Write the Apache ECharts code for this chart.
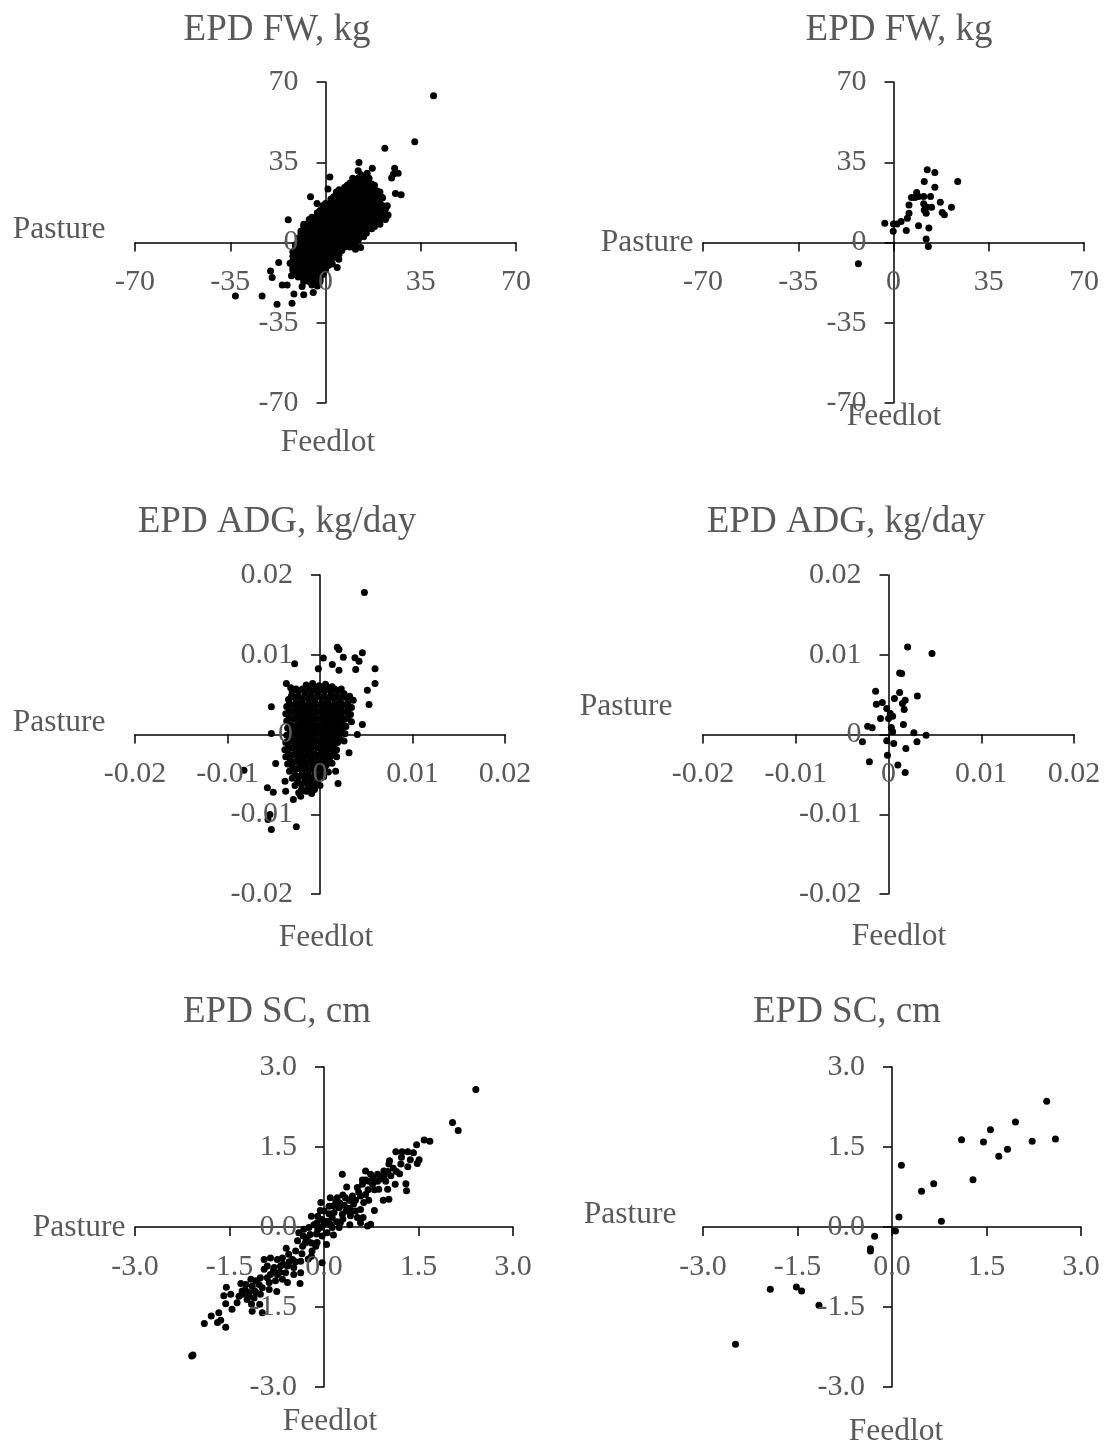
<!DOCTYPE html>
<html>
<head>
<meta charset="utf-8">
<title>EPD feedlot vs pasture</title>
<script src="https://cdn.jsdelivr.net/npm/echarts@6/dist/echarts.min.js"></script>
<style>
html, body { margin: 0; padding: 0; background: #fff; }
#chart { width: 1105px; height: 1446px; }
</style>
</head>
<body>
<div id="chart"></div>
<script>
// every point is [feedlot, pasture]
const fwAll = [
  [39.7,64.0],[32.8,43.9],[21.8,41.1],[12.3,34.9],[17.2,32.4],[12.0,31.3],[15.3,30.2],[25.4,32.4],[24.9,29.8],[26.7,30.2],
  [24.3,28.1],[1.6,28.6],[0.9,23.3],[-5.5,19.9],[-3.1,17.0],[25.7,21.4],[27.8,20.8],[-13.7,9.9],[-17.2,-8.7],[-20.2,-12.4],
  [-19.6,-15.3],[-15.9,-18.5],[-14.1,-18.5],[-8.6,-19.2],[-12.5,-14.5],[-33.1,-23.3],[-23.3,-23.3],[-17.8,-26.9],[-11.6,-22.5],[-12.3,-26.5],
  [-8.0,-22.8],[-4.5,-21.8],[4.3,-10.9],[2.5,-9.4],[4.9,-7.3],[11.0,-2.9],[12.9,-2.2],[22.3,10.9],[21.4,13.1],[22.7,16.0],[20.2,20.3],
  [13,29.5],[15,28.5],
  [9,26],[11,27],[13,26],[15,26.5],[17,25.5],
  [5,23],[7,24],[9,23],[11,23.5],[13,23],[15,24],[17,23],[19,22.5],
  [3,20],[5,21],[7,20],[9,20.5],[11,21],[13,20],[15,20.5],[17,20],[19,21],[21,19.5],
  [0,17],[2,18],[4,17.5],[6,17],[8,18],[10,17],[12,17.5],[14,17],[16,18],[18,17],[20,17.5],
  [-2,14],[0,14.5],[2,14],[4,15],[6,14],[8,14.5],[10,15],[12,14],[14,14.5],[16,14],[18,15],[20,14],[22,14.5],
  [-5,11],[-3,12],[-1,11],[1,11.5],[3,12],[5,11],[7,11.5],[9,12],[11,11],[13,11.5],[15,12],[17,11],[19,11.5],[21,11],[23,12],
  [-8,8],[-6,9],[-4,8],[-2,8.5],[0,9],[2,8],[4,8.5],[6,9],[8,8],[10,8.5],[12,9],[14,8],[16,8.5],[18,9],[20,8],
  [-9,5],[-7,6],[-5,5],[-3,5.5],[-1,6],[1,5],[3,5.5],[5,6],[7,5],[9,5.5],[11,6],[13,5],[15,5.5],[17,6],
  [-10,2],[-8,3],[-6,2],[-4,2.5],[-2,3],[0,2],[2,2.5],[4,3],[6,2],[8,2.5],[10,3],[12,2],[14,2.5],
  [-11,-1],[-9,0],[-7,-1],[-5,-0.5],[-3,0],[-1,-1],[1,-0.5],[3,0],[5,-1],[7,-0.5],[9,0],[11,-1],
  [-12,-4],[-10,-3],[-8,-4],[-6,-3.5],[-4,-3],[-2,-4],[0,-3.5],[2,-3],[4,-4],[6,-3.5],
  [-12,-6],[-10,-7],[-8,-6.5],[-6,-6],[-4,-7],[-2,-6.5],[0,-6],[2,-7],[4,-6.5],
  [-13,-9],[-11,-10],[-9,-9.5],[-7,-9],[-5,-10],[-3,-9.5],[-1,-9],[1,-10],
  [-12,-12],[-10,-13],[-8,-12.5],[-6,-12],[-4,-13],[-2,-12.5],[0,-12],
  [-10,-15],[-8,-16],[-6,-15.5],[-4,-15],[-2,-16],
  [-5,-18.5],[-3,-19],
  [10,28],[12,28],[14,28],[16,28],
  [8,25],[10,25],[12,25],[14,25],[16,25],[18,25],
  [4,22],[6,22],[8,22],[10,22],[12,22],[14,22],[16,22],[18,22],[20,22],
  [2,19],[4,19],[6,19],[8,19],[10,19],[12,19],[14,19],[16,19],[18,19],[20,19],
  [-1,16],[1,16],[3,16],[5,16],[7,16],[9,16],[11,16],[13,16],[15,16],[17,16],[19,16],[21,16],
  [-3,13],[-1,13],[1,13],[3,13],[5,13],[7,13],[9,13],[11,13],[13,13],[15,13],[17,13],[19,13],[21,13],
  [-6,10],[-4,10],[-2,10],[0,10],[2,10],[4,10],[6,10],[8,10],[10,10],[12,10],[14,10],[16,10],[18,10],[20,10],[22,10],
  [-8,7],[-6,7],[-4,7],[-2,7],[0,7],[2,7],[4,7],[6,7],[8,7],[10,7],[12,7],[14,7],[16,7],[18,7],
  [-9,4],[-7,4],[-5,4],[-3,4],[-1,4],[1,4],[3,4],[5,4],[7,4],[9,4],[11,4],[13,4],[15,4],
  [-10,1],[-8,1],[-6,1],[-4,1],[-2,1],[0,1],[2,1],[4,1],[6,1],[8,1],[10,1],[12,1],
  [-11,-2],[-9,-2],[-7,-2],[-5,-2],[-3,-2],[-1,-2],[1,-2],[3,-2],[5,-2],[7,-2],[9,-2],
  [-11,-5],[-9,-5],[-7,-5],[-5,-5],[-3,-5],[-1,-5],[1,-5],[3,-5],[5,-5],
  [-12,-8],[-10,-8],[-8,-8],[-6,-8],[-4,-8],[-2,-8],[0,-8],[2,-8],
  [-12,-11],[-10,-11],[-8,-11],[-6,-11],[-4,-11],[-2,-11],[0,-11],
  [-11,-14],[-9,-14],[-7,-14],[-5,-14],[-3,-14],[-1,-14],
  [-8,-17],[-6,-17],[-4,-17],[-2,-17]
];

const fwSub = [
  [12.4,31.7],[15.2,30.5],[11.3,26.6],[23.6,26.6],[15.2,24.1],[8.5,21.8],[6.6,19.6],[7.9,19.6],[9.2,20.1],[11.1,20.1],
  [13.6,20.1],[17.2,17.6],[5.7,16.4],[11.1,16.9],[12.4,15.4],[14.0,15.4],[11.3,14.2],[21.3,15.4],[17.9,13.1],[18.7,12.1],
  [12.0,12.8],[5.7,12.8],[5.1,10.6],[2.8,9.2],[1.3,8.1],[0,8.1],[-3.2,8.4],[-0.1,4.9],[4.7,5.2],[9.2,7.3],
  [13.0,6.3],[12.0,1.5],[12.8,-1.7],[-12.9,-9.3]
];

const adgAll = [
  [0.0048,0.0178],[0.00187,0.01095],[0.00205,0.01066],[0.00458,0.01024],[0.00378,0.00961],[0.00422,0.0092],[0.00252,0.0097],[0.00036,0.0096],
  [-0.00018,0.00823],[-0.00274,0.00886],[0.00133,0.00878],[0.00205,0.00807],[0.00386,0.00815],[0.00595,0.00823],[0.00595,0.0064],[0.00512,0.00556],
  [0.0053,0.00376],[-0.00526,0.00347],[-0.00364,0.0064],[-0.00317,0.00585],[-0.00526,0.00013],[0.00458,0.00125],[0.00404,0],[0.00314,-0.0023],
  [0.00195,-0.00614],[0.00169,-0.0046],[-0.00822,-0.00447],[-0.00479,-0.00364],[-0.00569,-0.00669],[-0.00505,-0.00723],[-0.00371,-0.00711],[-0.00378,-0.00585],
  [-0.00288,-0.00815],[-0.00209,-0.00773],[-0.00541,-0.01003],[-0.00562,-0.01066],[-0.00526,-0.01191],[-0.00256,-0.01158],[-0.00137,-0.00711],[-0.00065,-0.00681],
  [-0.0015,0.0062],[-0.0008,0.0064],[-0.0001,0.0061],[0.0006,0.0063],[0.0013,0.0060],
  [-0.0030,0.0053],[-0.0023,0.0055],[-0.0016,0.0052],[-0.0009,0.0054],[-0.0002,0.0053],[0.0005,0.0055],[0.0012,0.0052],[0.0019,0.0054],[0.0026,0.0051],
  [-0.0034,0.0044],[-0.0027,0.0046],[-0.0020,0.0043],[-0.0013,0.0045],[-0.0006,0.0044],[0.0001,0.0046],[0.0008,0.0043],[0.0015,0.0045],[0.0022,0.0044],[0.0029,0.0046],[0.0036,0.0043],
  [-0.0036,0.0035],[-0.0029,0.0037],[-0.0022,0.0034],[-0.0015,0.0036],[-0.0008,0.0035],[-0.0001,0.0037],[0.0006,0.0034],[0.0013,0.0036],[0.0020,0.0035],[0.0027,0.0037],[0.0034,0.0034],
  [-0.0037,0.0026],[-0.0030,0.0028],[-0.0023,0.0025],[-0.0016,0.0027],[-0.0009,0.0026],[-0.0002,0.0028],[0.0005,0.0025],[0.0012,0.0027],[0.0019,0.0026],[0.0026,0.0028],[0.0033,0.0025],
  [-0.0036,0.0017],[-0.0029,0.0019],[-0.0022,0.0016],[-0.0015,0.0018],[-0.0008,0.0017],[-0.0001,0.0019],[0.0006,0.0016],[0.0013,0.0018],[0.0020,0.0017],[0.0027,0.0019],[0.0034,0.0016],
  [-0.0035,0.0008],[-0.0028,0.0010],[-0.0021,0.0007],[-0.0014,0.0009],[-0.0007,0.0008],[0.0000,0.0010],[0.0007,0.0007],[0.0014,0.0009],[0.0021,0.0008],[0.0028,0.0010],
  [-0.0036,-0.0001],[-0.0029,0.0001],[-0.0022,-0.0002],[-0.0015,0.0000],[-0.0008,-0.0001],[-0.0001,0.0001],[0.0006,-0.0002],[0.0013,0.0000],[0.0020,-0.0001],[0.0027,0.0001],
  [-0.0037,-0.0010],[-0.0030,-0.0008],[-0.0023,-0.0011],[-0.0016,-0.0009],[-0.0009,-0.0010],[-0.0002,-0.0008],[0.0005,-0.0011],[0.0012,-0.0009],[0.0019,-0.0010],[0.0026,-0.0008],
  [-0.0038,-0.0019],[-0.0031,-0.0017],[-0.0024,-0.0020],[-0.0017,-0.0018],[-0.0010,-0.0019],[-0.0003,-0.0017],[0.0004,-0.0020],[0.0011,-0.0018],[0.0018,-0.0019],
  [-0.0037,-0.0028],[-0.0030,-0.0026],[-0.0023,-0.0029],[-0.0016,-0.0027],[-0.0009,-0.0028],[-0.0002,-0.0026],[0.0005,-0.0029],[0.0012,-0.0027],[0.0018,-0.0028],
  [-0.0035,-0.0037],[-0.0028,-0.0035],[-0.0021,-0.0038],[-0.0014,-0.0036],[-0.0007,-0.0037],[0.0000,-0.0035],[0.0007,-0.0038],[0.0013,-0.0036],
  [-0.0033,-0.0046],[-0.0026,-0.0044],[-0.0019,-0.0047],[-0.0012,-0.0045],[-0.0005,-0.0046],[0.0002,-0.0044],[0.0009,-0.0047],
  [-0.0030,-0.0055],[-0.0023,-0.0053],[-0.0016,-0.0056],[-0.0009,-0.0054],[-0.0002,-0.0055],[0.0004,-0.0053],
  [-0.0027,-0.0064],[-0.0020,-0.0062],[-0.0013,-0.0065],[-0.0006,-0.0063],[0.0000,-0.0064],
  [-0.0023,-0.0073],[-0.0016,-0.0071],[-0.0009,-0.0074],
  [-0.0026,0.0057],[-0.0019,0.0057],[-0.0012,0.0057],[-0.0005,0.0057],[0.0002,0.0057],[0.0009,0.0057],[0.0016,0.0057],[0.0023,0.0057],
  [-0.0031,0.0048],[-0.0024,0.0048],[-0.0017,0.0048],[-0.0010,0.0048],[-0.0003,0.0048],[0.0004,0.0048],[0.0011,0.0048],[0.0018,0.0048],[0.0025,0.0048],[0.0032,0.0048],
  [-0.0033,0.0039],[-0.0026,0.0039],[-0.0019,0.0039],[-0.0012,0.0039],[-0.0005,0.0039],[0.0002,0.0039],[0.0009,0.0039],[0.0016,0.0039],[0.0023,0.0039],[0.0030,0.0039],
  [-0.0033,0.0030],[-0.0026,0.0030],[-0.0019,0.0030],[-0.0012,0.0030],[-0.0005,0.0030],[0.0002,0.0030],[0.0009,0.0030],[0.0016,0.0030],[0.0023,0.0030],[0.0030,0.0030],
  [-0.0033,0.0021],[-0.0026,0.0021],[-0.0019,0.0021],[-0.0012,0.0021],[-0.0005,0.0021],[0.0002,0.0021],[0.0009,0.0021],[0.0016,0.0021],[0.0023,0.0021],[0.0030,0.0021],
  [-0.0032,0.0012],[-0.0025,0.0012],[-0.0018,0.0012],[-0.0011,0.0012],[-0.0004,0.0012],[0.0003,0.0012],[0.0010,0.0012],[0.0017,0.0012],[0.0024,0.0012],
  [-0.0032,0.0003],[-0.0025,0.0003],[-0.0018,0.0003],[-0.0011,0.0003],[-0.0004,0.0003],[0.0003,0.0003],[0.0010,0.0003],[0.0017,0.0003],[0.0024,0.0003],
  [-0.0033,-0.0006],[-0.0026,-0.0006],[-0.0019,-0.0006],[-0.0012,-0.0006],[-0.0005,-0.0006],[0.0002,-0.0006],[0.0009,-0.0006],[0.0016,-0.0006],[0.0022,-0.0006],
  [-0.0034,-0.0015],[-0.0027,-0.0015],[-0.0020,-0.0015],[-0.0013,-0.0015],[-0.0006,-0.0015],[0.0001,-0.0015],[0.0008,-0.0015],[0.0015,-0.0015],
  [-0.0034,-0.0024],[-0.0027,-0.0024],[-0.0020,-0.0024],[-0.0013,-0.0024],[-0.0006,-0.0024],[0.0001,-0.0024],[0.0008,-0.0024],[0.0015,-0.0024],
  [-0.0032,-0.0033],[-0.0025,-0.0033],[-0.0018,-0.0033],[-0.0011,-0.0033],[-0.0004,-0.0033],[0.0003,-0.0033],[0.0010,-0.0033],
  [-0.0030,-0.0042],[-0.0023,-0.0042],[-0.0016,-0.0042],[-0.0009,-0.0042],[-0.0002,-0.0042],[0.0005,-0.0042],
  [-0.0027,-0.0051],[-0.0020,-0.0051],[-0.0013,-0.0051],[-0.0006,-0.0051],[0.0001,-0.0051],
  [-0.0024,-0.0060],[-0.0017,-0.0060],[-0.0010,-0.0060],[-0.0003,-0.0060],
  [-0.0020,-0.0069],[-0.0013,-0.0069],[-0.0006,-0.0069]
];

const adgSub = [
  [0.00206,0.01098],[0.00469,0.01015],[0.0012,0.00772],[0.00142,0.00764],[-0.00139,0.00543],[0.0012,0.00526],[0.00311,0.00484],[0.00064,0.00451],
  [0.0018,0.0043],[0.0015,0.00388],[-0.00067,0.004],[-0.00131,0.0038],[0.00169,0.00313],[-0.00019,0.00326],[0.00019,0.00263],[0.00045,0.0023],
  [0,0.002],[-0.00086,0.002],[0.00161,0.00125],[0.0003,0.00088],[-0.00225,0.00104],[-0.00176,0.00084],[0.00045,0.00033],[0.00274,0.00021],
  [0.00405,-0.00008],[-0.00281,-0.00092],[-0.00019,-0.00079],[0.00056,-0.00113],[0.00307,-0.00092],[0.00187,-0.00175],[-0.00011,-0.00259],[-0.00206,-0.00342],
  [0.00101,-0.00384],[0.0018,-0.00476]
];

const scAll = [
  [2.41,2.58],[2.04,1.96],[2.13,1.81],[1.59,1.63],[1.68,1.61],[1.47,1.54],[1.14,1.41],[1.24,1.41],[1.33,1.41],[1.42,1.39],
  [1.23,1.31],[1.37,1.26],[1.51,1.26],[1.48,1.19],[1.04,1.24],[1.03,1.18],[1.22,1.18],[1.33,1.13],[1.15,1.04],[1.01,1.04],
  [1.06,0.96],[0.95,0.96],[0.85,0.99],[0.78,0.91],[0.98,0.86],[1.13,0.80],[1.30,0.81],[1.31,0.68],[1.01,0.71],[0.87,0.71],
  [1.03,0.52],[0.94,0.50],[0.80,0.31],[0.66,1.05],[0.61,0.88],[0.71,0.86],[0.29,0.99],[0.36,0.75],[0.53,0.74],[0.61,0.80],
  [0.45,0.58],[0.58,0.58],[0.66,0.61],[0.71,0.50],[0.63,0.46],[0.58,0.33],[0.47,0.43],[0.34,0.55],[0.21,0.55],[0.10,0.55],
  [0.19,0.48],[-0.05,0.46],[-0.06,0.31],[0.08,0.39],[0.24,0.36],[0.32,0.41],[0.16,0.27],[0.29,0.24],[0.42,0.21],[0.53,0.18],
  [0.62,0.18],[0.58,0.08],[0.69,0.02],[0.41,0.04],[0.26,0.08],[0.13,0.18],[0.05,0.11],[-0.03,0.14],[-0.11,0.08],[-0.16,0.04],
  [-0.24,-0.01],[-0.05,-0.01],[0.13,-0.01],[0.24,-0.01],[0.05,-0.11],[0.15,-0.15],[-0.03,-0.17],[-0.12,-0.13],[-0.22,-0.14],[-0.33,-0.17],
  [-0.40,-0.11],[-0.26,-0.26],[-0.11,-0.29],[0.04,-0.33],[-0.19,-0.45],[-0.13,-0.36],[-0.34,-0.36],[-0.42,-0.26],[-0.45,-0.45],[-0.56,-0.51],
  [-0.50,-0.61],[-0.37,-0.64],[-0.03,-0.67],[-0.66,-0.58],[-0.74,-0.61],[-0.85,-0.58],[-0.95,-0.61],[-0.90,-0.73],[-0.79,-0.76],[-0.69,-0.73],
  [-0.58,-0.73],[-0.48,-0.76],[-0.61,-0.86],[-0.74,-0.89],[-0.85,-0.89],[-0.48,-0.89],[-0.37,-0.86],[-0.38,-1.06],[-0.58,-1.04],[-0.66,-0.98],
  [-0.77,-1.01],[-0.87,-1.04],[-1.01,-0.95],[-1.08,-1.01],[-1.16,-0.98],[-1.03,-1.08],[-1.14,-1.11],[-1.24,-1.08],[-1.32,-1.06],[-0.98,-1.14],
  [-0.87,-1.17],[-0.75,-1.21],[-1.08,-1.23],[-1.19,-1.23],[-1.30,-1.26],[-1.01,-1.26],[-1.11,-1.33],[-1.22,-1.36],[-1.38,-1.42],[-1.15,-1.45],
  [-1.02,-1.45],[-1.14,-1.58],[-0.98,-1.61],[-1.46,-1.54],[-1.56,-1.44],[-1.59,-1.29],[-1.48,-1.26],[-1.55,-1.13],[-1.67,-1.61],[-1.79,-1.67],
  [-1.90,-1.81],[-1.69,-1.79],[-1.64,-1.75],[-1.56,-1.88],[-2.10,-2.42],[-2.08,-2.40],[-0.95,-0.79],[0.74,0.05],[0.66,0.88],[0.77,0.80],
  [0.85,0.86],[0.74,0.99],[0.95,1.05],[-0.32,-0.04],[-0.28,-0.22],[0.08,0.25],[0.20,0.10],[-0.60,-0.40],[-0.20,-0.55],[-1.25,-1.18],
  [-0.20,0.20],[-0.10,0.20],[0.00,0.30],[0.00,0.05],[0.10,0.05],[-0.10,-0.05],[0.30,0.15],[0.35,0.30],[0.40,0.35],[0.45,0.30],
  [0.50,0.30],[-0.30,-0.30],[-0.20,-0.30],[-0.35,-0.50],[-0.25,-0.60],[-0.45,-0.65],[-0.55,-0.65],[-0.65,-0.70],[-0.70,-0.85],[-0.80,-0.80],
  [-0.90,-0.95],[-1.20,-1.30],[-1.30,-1.20],[-1.35,-1.30],[-1.10,-1.20],[0.90,0.90],[1.10,1.10],[1.20,1.00],[0.80,0.70],[0.70,0.70],
  [0.55,0.65],[0.50,0.50],[0.40,0.50],[0.25,0.45],[0.15,0.40],[0.30,0.60]
];

const scSub = [
  [2.456,2.356],[1.960,1.969],[1.562,1.825],[1.104,1.638],[1.452,1.594],[2.225,1.606],[2.594,1.65],[1.833,1.456],[1.695,1.325],[0.149,1.156],
  [1.286,0.888],[0.662,0.813],[0.469,0.669],[0.11,0.188],[0.784,0.106],[0.055,-0.075],[-0.276,-0.175],[-0.342,-0.406],[-0.342,-0.45],[-1.932,-1.169],
  [-1.518,-1.125],[-1.435,-1.2],[-1.159,-1.469],[-2.484,-2.2]
];

const fwTicks = [-70, -35, 0, 35, 70];
const adgTicks = [-0.02, -0.01, 0, 0.01, 0.02];
const scTicks = [-3, -1.5, 0, 1.5, 3];
const traitTitles = ['EPD FW, kg', 'EPD ADG, kg/day', 'EPD SC, cm'];

const FONT = '"Liberation Serif", "Times New Roman", serif';
const GREY = '#595959';

const fmtFw = v => String(Math.round(v));
const fmtAdg = v => (Math.abs(v) < 1e-9 ? '0' : v.toFixed(2));
const fmtSc = v => (Math.abs(v) < 1e-9 ? '0.0' : v.toFixed(1));

// one entry per panel: left column = all bulls, right column = subset
const panels = [
  { data: fwAll, ticks: fwTicks, fmt: fmtFw, title: traitTitles[0], grid: [135, 82, 381, 321], titleAt: [277, 30], pastureAt: [59, 230], feedlotAt: [328, 443] },
  { data: fwSub, ticks: fwTicks, fmt: fmtFw, title: traitTitles[0], grid: [703, 82, 381, 321], titleAt: [899, 30], pastureAt: [647, 243], feedlotAt: [894, 417] },
  { data: adgAll, ticks: adgTicks, fmt: fmtAdg, title: traitTitles[1], grid: [135, 575, 370, 319], titleAt: [277, 522], pastureAt: [59, 723], feedlotAt: [326, 938] },
  { data: adgSub, ticks: adgTicks, fmt: fmtAdg, title: traitTitles[1], grid: [703, 575, 371, 319], titleAt: [846, 522], pastureAt: [626, 707], feedlotAt: [899, 937] },
  { data: scAll, ticks: scTicks, fmt: fmtSc, title: traitTitles[2], grid: [135, 1067, 378, 320], titleAt: [277, 1012], pastureAt: [79, 1228], feedlotAt: [330, 1422] },
  { data: scSub, ticks: scTicks, fmt: fmtSc, title: traitTitles[2], grid: [703, 1067, 378, 320], titleAt: [847, 1012], pastureAt: [630, 1215], feedlotAt: [896, 1432] }
];

// axes cross in the middle of each grid (ranges are symmetric), so pull them in by half the grid size
const makeAxis = (p, i, isX) => ({
  type: 'value',
  gridIndex: i,
  position: isX ? 'bottom' : 'left',
  offset: isX ? -p.grid[3] / 2 : -p.grid[2] / 2,
  min: p.ticks[0],
  max: p.ticks[p.ticks.length - 1],
  interval: p.ticks[1] - p.ticks[0],
  z: 3,
  axisLine: { onZero: false, lineStyle: { color: '#000', width: 1.5 } },
  axisTick: { show: true, length: 9, lineStyle: { color: '#000', width: 1.5 } },
  splitLine: { show: false },
  axisLabel: {
    color: GREY,
    fontFamily: FONT,
    fontSize: 30,
    margin: isX ? 25 : 27,
    showMinLabel: true,
    showMaxLabel: true,
    hideOverlap: false,
    formatter: p.fmt
  }
});

const textEl = (txt, at, size) => ({
  type: 'text',
  x: at[0],
  y: at[1],
  z: 10,
  style: {
    text: txt,
    fill: GREY,
    fontFamily: FONT,
    fontSize: size,
    align: 'center',
    verticalAlign: 'middle',
    textAlign: 'center',
    textVerticalAlign: 'middle'
  }
});

const chart = echarts.init(document.getElementById('chart'), null, { renderer: 'canvas' });

chart.setOption({
  animation: false,
  backgroundColor: '#fff',
  grid: panels.map(p => ({
    left: p.grid[0], top: p.grid[1], width: p.grid[2], height: p.grid[3],
    containLabel: false, outerBoundsMode: 'none'
  })),
  xAxis: panels.map((p, i) => makeAxis(p, i, true)),
  yAxis: panels.map((p, i) => makeAxis(p, i, false)),
  series: panels.map((p, i) => ({
    type: 'scatter',
    xAxisIndex: i,
    yAxisIndex: i,
    data: p.data,
    symbol: 'circle',
    symbolSize: 7,
    silent: true,
    itemStyle: { color: '#000', opacity: 1 }
  })),
  graphic: panels.flatMap(p => [
    textEl(p.title, p.titleAt, 37),
    textEl('Pasture', p.pastureAt, 31.5),
    textEl('Feedlot', p.feedlotAt, 31.5)
  ])
});
</script>
</body>
</html>
